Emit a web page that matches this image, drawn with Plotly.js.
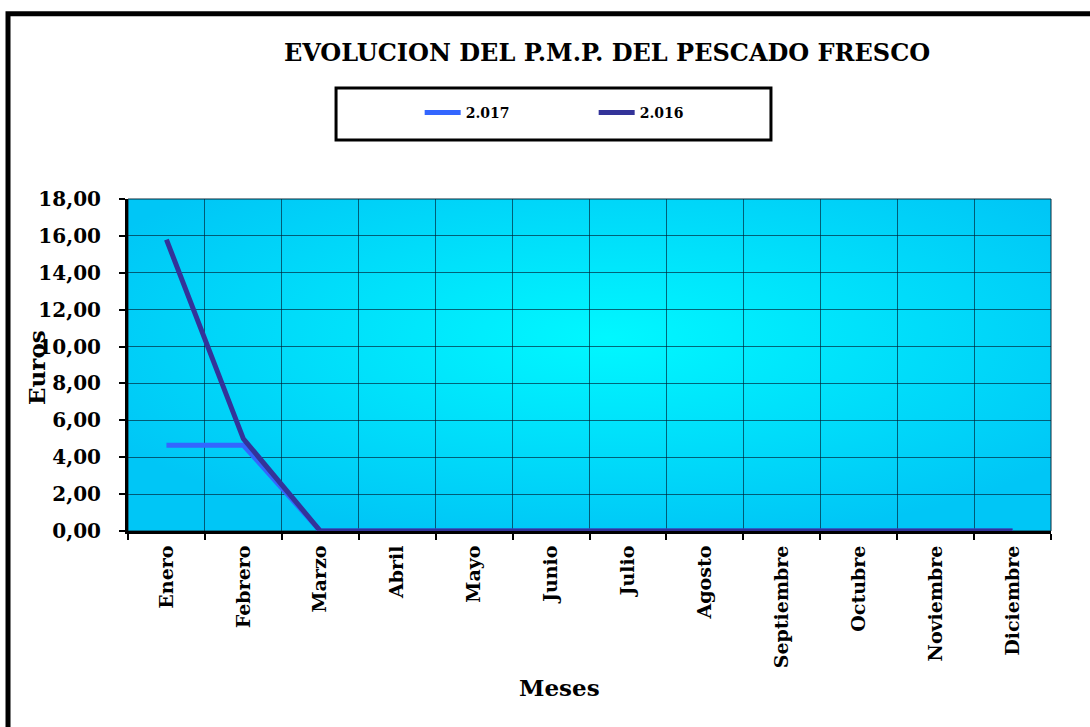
<!DOCTYPE html>
<html><head><meta charset="utf-8">
<script src="https://cdn.plot.ly/plotly-3.0.1.min.js"></script>
<style>html,body{margin:0;padding:0;background:#fff;}#chart{width:1090px;height:727px;}</style>
</head><body><div id="chart"></div>
<script>
var months = ["Enero","Febrero","Marzo","Abril","Mayo","Junio","Julio","Agosto","Septiembre","Octubre","Noviembre","Diciembre"];
var v2017 = [4.65,4.65,0,0,0,0,0,0,0,0,0,0];
var v2016 = [15.8,5.0,0,0,0,0,0,0,0,0,0,0];
var yTickVals = [0,2,4,6,8,10,12,14,16,18];

var serif = "DejaVu Serif";
var svg = '<svg xmlns="http://www.w3.org/2000/svg" width="923" height="332" viewBox="0 0 923 332" preserveAspectRatio="none">' +
  '<defs><radialGradient id="g" cx="0.52" cy="0.42" r="0.62" gradientUnits="objectBoundingBox">' +
  '<stop offset="0" stop-color="#00F8FF"/><stop offset="1" stop-color="#00C6F6"/></radialGradient></defs>' +
  '<rect width="923" height="332" fill="url(#g)"/></svg>';
var bgSrc = "data:image/svg+xml;charset=utf-8," + encodeURIComponent(svg);

var traces = [
  {x: months, y: v2017, name: "2.017", type: "scatter", mode: "lines",
   line: {color: "#3366FF", width: 5}},
  {x: months, y: v2016, name: "2.016", type: "scatter", mode: "lines",
   line: {color: "#333399", width: 5}}
];

var layout = {
  width: 1090, height: 727,
  margin: {l: 128, r: 39, t: 199, b: 196},
  paper_bgcolor: "#ffffff",
  plot_bgcolor: "rgba(0,0,0,0)",
  showlegend: true,
  title: {text: "EVOLUCION DEL P.M.P. DEL PESCADO FRESCO",
    font: {family: serif, size: 24, color: "#000", weight: "bold"},
    xref: "paper", x: 0.519, xanchor: "center", yref: "container", y: 0.928, yanchor: "middle"},
  legend: {orientation: "h", x: 0.316, xanchor: "left", y: 1.259, yanchor: "middle",
    bgcolor: "rgba(0,0,0,0)", borderwidth: 0,
    font: {family: serif, size: 14, color: "#000", weight: "bold"},
    entrywidth: 123, entrywidthmode: "pixels", itemwidth: 36},
  xaxis: {type: "category", range: [-0.5, 11.5], tickson: "boundaries",
    showgrid: true, gridcolor: "rgba(0,30,50,0.65)", gridwidth: 1,
    showline: true, linecolor: "#000", linewidth: 3,
    ticks: "outside", ticklen: 6, tickwidth: 2, tickcolor: "#000",
    ticklabelstandoff: 4,
    tickangle: -90, tickfont: {family: serif, size: 19, color: "#000", weight: "bold"},
    zeroline: false, fixedrange: true},
  yaxis: {range: [0, 18], tickvals: yTickVals, tickformat: ".2f",
    showgrid: true, gridcolor: "rgba(0,30,50,0.65)", gridwidth: 1,
    showline: true, linecolor: "#000", linewidth: 3,
    ticks: "outside", ticklen: 6, tickwidth: 2, tickcolor: "#000",
    ticklabelstandoff: 14,
    tickfont: {family: serif, size: 20, color: "#000", weight: "bold"},
    zeroline: false, fixedrange: true},
  separators: ",.",
  images: [{source: bgSrc, xref: "paper", yref: "paper", x: 0, y: 1, sizex: 1, sizey: 1,
    sizing: "stretch", xanchor: "left", yanchor: "top", layer: "below"}],
  shapes: [
    {type: "rect", xref: "paper", yref: "paper", x0: -0.1300, x1: 1.1, y0: -0.7, y1: 1.558,
     line: {color: "#000", width: 5}, fillcolor: "rgba(0,0,0,0)", layer: "below"},
    {type: "rect", xref: "paper", yref: "paper", x0: 0.2254, x1: 0.6966, y0: 1.1777, y1: 1.3343,
     line: {color: "#000", width: 3}, fillcolor: "rgba(0,0,0,0)"},
    {type: "rect", xref: "paper", yref: "paper", x0: 0, x1: 1, y0: 0, y1: 1,
     line: {color: "#0a2a3a", width: 1}, fillcolor: "rgba(0,0,0,0)", layer: "below"}
  ],
  annotations: [
    {text: "Euros", xref: "paper", yref: "paper", x: -0.0986, y: 0.494, showarrow: false,
     textangle: -90, xanchor: "center", yanchor: "middle",
     font: {family: serif, size: 23, color: "#000", weight: "bold"}},
    {text: "Meses", xref: "paper", yref: "paper", x: 0.468, y: -0.47, showarrow: false,
     xanchor: "center", yanchor: "middle",
     font: {family: serif, size: 23, color: "#000", weight: "bold"}}
  ]
};

Plotly.newPlot("chart", traces, layout, {displayModeBar: false, staticPlot: true});
</script></body></html>
